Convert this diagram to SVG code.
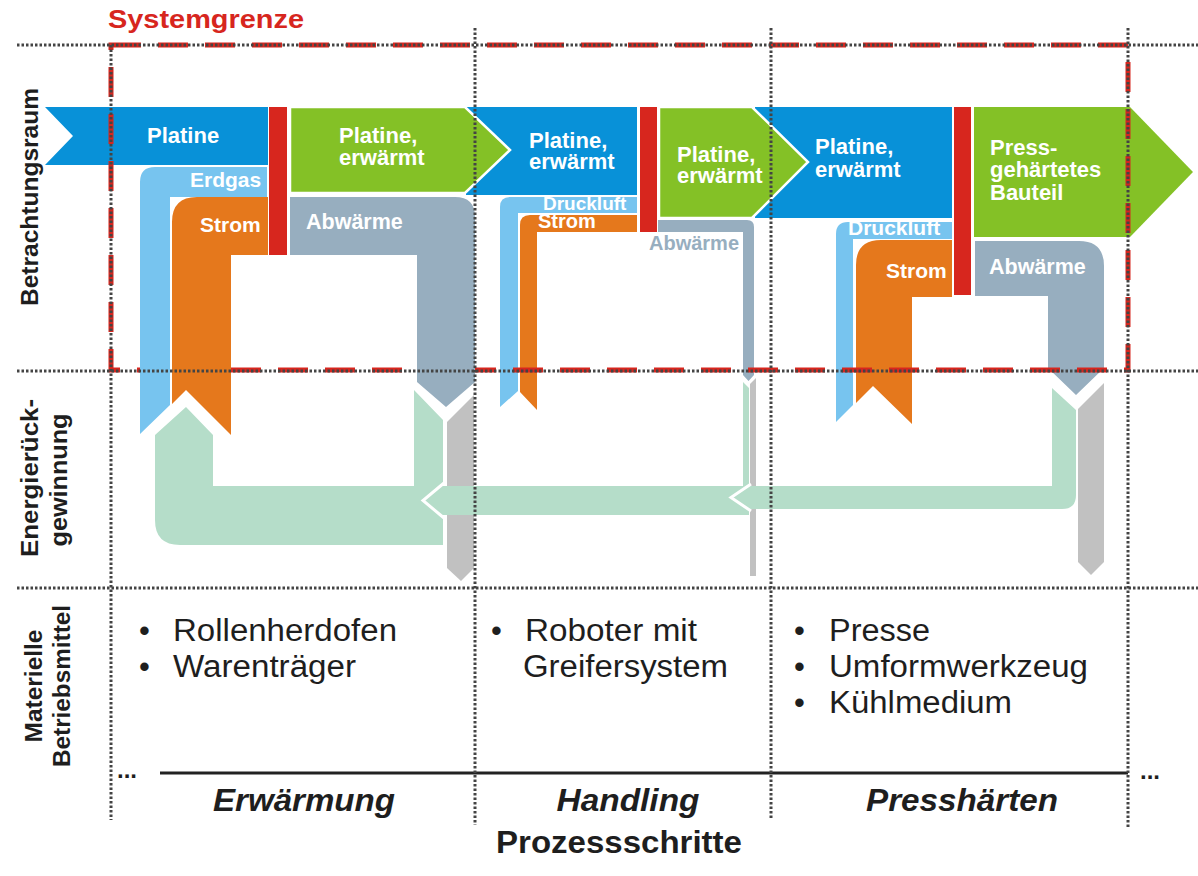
<svg xmlns="http://www.w3.org/2000/svg" width="1198" height="876" viewBox="0 0 1198 876">
<style>
.b{fill:#0891d8}
.g{fill:#84c126;stroke:#fff;stroke-width:2.5}
.r{fill:#d7261e}
.lb{fill:#77c4ef}
.or{fill:#e5781c}
.gb{fill:#97aebf}
.mi{fill:#b5ddc9}
.gr{fill:#c1c1c1}
.wv{fill:none;stroke:#fff;stroke-width:3}
.wt{font-family:"Liberation Sans",Arial,sans-serif;font-weight:bold;fill:#fff;font-size:22px}
.ft{font-family:"Liberation Sans",Arial,sans-serif;font-weight:bold;fill:#fff;font-size:21px}
.grid{stroke:#444;stroke-width:3;stroke-dasharray:2.5 2;fill:none}
.lbl{font-family:"Liberation Sans",Arial,sans-serif;font-weight:bold;fill:#1e1e1e;font-size:23px;text-anchor:middle}
.bl{font-family:"Liberation Sans",Arial,sans-serif;fill:#1e1e1e;font-size:31px}
.st{font-family:"Liberation Sans",Arial,sans-serif;font-weight:bold;font-style:italic;fill:#1e1e1e;font-size:31px;text-anchor:middle}
</style>

<!-- top process bands -->
<g id="platine-1">
  <path class="b" d="M45,107 L268,107 L268,165 L45,165 L73,136 Z"/>
  <text class="wt" x="147" y="143">Platine</text>
</g>
<rect id="prozess-erwaermung" class="r" x="269" y="107" width="18" height="148"/>
<g id="platine-erwaermt-2">
  <rect class="b" x="466" y="107" width="171" height="88"/>
  <text class="wt" x="529" y="148">Platine,</text>
  <text class="wt" x="529" y="169">erwärmt</text>
</g>
<g id="platine-erwaermt-1">
  <path class="g" d="M290,107 L465,107 L510,150 L465,193 L290,193 Z"/>
  <text class="wt" x="339" y="143">Platine,</text>
  <text class="wt" x="339" y="165">erwärmt</text>
</g>
<rect id="prozess-handling" class="r" x="640" y="107" width="17" height="125"/>
<g id="platine-erwaermt-4">
  <rect class="b" x="755" y="107" width="197" height="111"/>
</g>
<g id="platine-erwaermt-3">
  <path class="g" d="M659,107 L752,107 L808,162 L752,218 L659,218 Z"/>
  <text class="wt" x="677" y="162">Platine,</text>
  <text class="wt" x="677" y="183">erwärmt</text>
</g>
<g id="platine-erwaermt-4-text">
  <text class="wt" x="815" y="154">Platine,</text>
  <text class="wt" x="815" y="177">erwärmt</text>
</g>
<rect id="prozess-presshaerten" class="r" x="954" y="107" width="17" height="188"/>
<g id="bauteil">
  <path class="g" d="M974,107 L1130,107 L1193,172 L1130,237 L974,237 Z" style="stroke:none"/>
  <text class="wt" x="990" y="155">Press-</text>
  <text class="wt" x="990" y="177">gehärtetes</text>
  <text class="wt" x="990" y="200">Bauteil</text>
</g>

<!-- energy flows (connectors) -->
<g id="connectors">
  <g id="handling-flows">
    <path class="lb" d="M500,407 L500,207 Q500,197 510,197 L637,197 L637,213 L518,213 L518,391 Z"/>
    <path class="or" d="M520,392 L520,225 Q520,215 530,215 L637,215 L637,232 L537,232 L537,410 Z"/>
    <path class="gb" d="M658,220 L747,220 Q754,220 754,227 L754,375 L748.5,381 L743,375 L743,232 L658,232 Z"/>
  </g>
  <g id="presshaerten-flows">
    <path class="lb" d="M836,422 L836,234 Q836,222 848,222 L952,222 L952,239 L853,239 L853,405 Z"/>
    <path class="or" d="M856,403 L856,265 Q856,240 881,240 L952,240 L952,297 L912,297 L912,424 L873,386 Z"/>
    <path class="gb" d="M975,241 L1079,241 Q1104,241 1104,266 L1104,368 L1076,395 L1048,368 L1048,296 L975,296 Z"/>
  </g>

  <rect id="systemgrenze" x="111" y="45" width="1017" height="325" fill="none" stroke="#d7261e" stroke-width="5" stroke-dasharray="30 17"/>

  <g id="erwaermung-flows">
    <path class="lb" d="M140,434 L140,182 Q140,167 155,167 L267,167 L267,197 L170,197 L170,405 Z"/>
    <path class="or" d="M172,404 L172,222 Q172,197 197,197 L268,197 L268,255 L231,255 L231,435 L186,390 Z"/>
    <path class="gb" d="M290,197 L455,197 Q475,197 475,217 L475,382 L446,407 L417,382 L417,255 L290,255 Z"/>
  </g>

  <g id="rueckgewinnung">
    <path class="gr" d="M447,422 L474,395 L474,568 L461,581 L447,568 Z"/>
    <path class="mi" d="M155,435 L186,407 L213,435 L213,486 L414,486 L414,390 L443,420 L443,545 L180,545 Q155,545 155,520 Z"/>
    <path class="gr" d="M750,384 L756,378 L756,576 L750,576 Z"/>
    <path class="mi" d="M425,501 L443,486 L743,486 L743,382 L749,388 L749,515 L443,515 Z"/>
    <path class="wv" d="M444,483 L423,500.5 L444,518"/>
    <path class="gr" d="M1078,409 L1104,383 L1104,562 L1091,575 L1078,562 Z"/>
    <path class="mi" d="M733,497.5 L749,486 L1052,486 L1052,388 L1076,410 L1076,495 Q1076,509 1062,509 L749,509 Z"/>
    <path class="wv" d="M751,484 L731,497.5 L751,511"/>
  </g>
</g>

<g id="flow-labels">
  <text class="ft" x="190" y="187">Erdgas</text>
  <text class="ft" x="200" y="232">Strom</text>
  <text class="ft" x="306" y="229" style="font-size:21.5px">Abwärme</text>
  <text class="ft" x="543" y="210" style="font-size:19px">Druckluft</text>
  <text class="ft" x="538" y="228" style="font-size:20px">Strom</text>
  <text class="ft" x="649" y="250" style="font-size:20px;fill:#97aebf">Abwärme</text>
  <text class="ft" x="848" y="235">Druckluft</text>
  <text class="ft" x="886" y="278">Strom</text>
  <text class="ft" x="989" y="274" style="font-size:21.5px">Abwärme</text>
</g>

<text id="systemgrenze-label" x="108" y="28" font-family="'Liberation Sans',Arial,sans-serif" font-weight="bold" font-size="25" fill="#d7261e" textLength="196" lengthAdjust="spacingAndGlyphs">Systemgrenze</text>

<g id="row-labels">
  <text class="lbl" transform="translate(38,197) rotate(-90)" textLength="218" lengthAdjust="spacingAndGlyphs">Betrachtungsraum</text>
  <text class="lbl" transform="translate(38,478) rotate(-90)" textLength="158" lengthAdjust="spacingAndGlyphs">Energierück-</text>
  <text class="lbl" transform="translate(67,480) rotate(-90)" textLength="133" lengthAdjust="spacingAndGlyphs">gewinnung</text>
  <text class="lbl" transform="translate(42,686) rotate(-90)" textLength="113" lengthAdjust="spacingAndGlyphs">Materielle</text>
  <text class="lbl" transform="translate(70,686) rotate(-90)" textLength="162" lengthAdjust="spacingAndGlyphs">Betriebsmittel</text>
</g>

<g id="betriebsmittel-erwaermung">
  <text class="bl" x="139" y="641">•</text>
  <text class="bl" x="173" y="641" textLength="224" lengthAdjust="spacingAndGlyphs">Rollenherdofen</text>
  <text class="bl" x="139" y="677">•</text>
  <text class="bl" x="173" y="677" textLength="183" lengthAdjust="spacingAndGlyphs">Warenträger</text>
</g>
<g id="betriebsmittel-handling">
  <text class="bl" x="491" y="641">•</text>
  <text class="bl" x="525" y="641" textLength="172" lengthAdjust="spacingAndGlyphs">Roboter mit</text>
  <text class="bl" x="523" y="677" textLength="205" lengthAdjust="spacingAndGlyphs">Greifersystem</text>
</g>
<g id="betriebsmittel-presshaerten">
  <text class="bl" x="794" y="641">•</text>
  <text class="bl" x="829" y="641" textLength="101" lengthAdjust="spacingAndGlyphs">Presse</text>
  <text class="bl" x="794" y="677">•</text>
  <text class="bl" x="829" y="677" textLength="259" lengthAdjust="spacingAndGlyphs">Umformwerkzeug</text>
  <text class="bl" x="794" y="713">•</text>
  <text class="bl" x="829" y="713" textLength="183" lengthAdjust="spacingAndGlyphs">Kühlmedium</text>
</g>

<g id="prozessachse">
  <line x1="160" y1="773" x2="1128" y2="773" stroke="#222" stroke-width="3"/>
  <text x="117" y="778" font-family="'Liberation Sans',Arial,sans-serif" font-weight="bold" font-size="24" fill="#1e1e1e">...</text>
  <text x="1140" y="779" font-family="'Liberation Sans',Arial,sans-serif" font-weight="bold" font-size="24" fill="#1e1e1e">...</text>
  <text class="st" x="304" y="811" textLength="182" lengthAdjust="spacingAndGlyphs">Erwärmung</text>
  <text class="st" x="628" y="811" textLength="143" lengthAdjust="spacingAndGlyphs">Handling</text>
  <text class="st" x="962" y="811" textLength="192" lengthAdjust="spacingAndGlyphs">Presshärten</text>
  <text x="619" y="853" font-family="'Liberation Sans',Arial,sans-serif" font-weight="bold" font-size="31" fill="#1e1e1e" text-anchor="middle" textLength="246" lengthAdjust="spacingAndGlyphs">Prozessschritte</text>
</g>

<g id="grid" class="grid">
  <line x1="17" y1="45" x2="1198" y2="45"/>
  <line x1="17" y1="371" x2="1198" y2="371"/>
  <line x1="17" y1="588" x2="1198" y2="588"/>
  <line x1="111" y1="45" x2="111" y2="820"/>
  <line x1="475" y1="28" x2="475" y2="825"/>
  <line x1="771" y1="28" x2="771" y2="818"/>
  <line x1="1128" y1="28" x2="1128" y2="827"/>
</g>
</svg>
